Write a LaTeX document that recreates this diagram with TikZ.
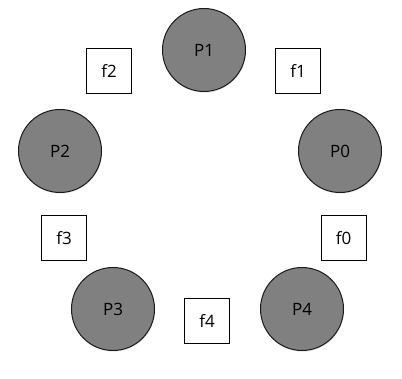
\documentclass[tikz,border=0pt]{standalone}
\usepackage{fontspec}
\setmainfont{Open Sans}
\usepackage{xcolor}
\definecolor{cFill}{HTML}{808080}
\definecolor{cLine}{HTML}{1A1A1A}
\usepackage{tikz}
\usetikzlibrary{positioning,shadows}
\tikzset{
  node-proc/.style={draw=cLine,line width=1pt,circle,fill=cFill,
    minimum size=83pt,inner sep=0pt,font=\fontsize{17}{19}\selectfont,
    drop shadow={opacity=0.2,shadow xshift=0.6pt,shadow yshift=-1.2pt}},
  node-fork/.style={draw=black,line width=0.8pt,rectangle,
    minimum width=45pt,minimum height=45pt,inner sep=0pt,
    font=\fontsize{17}{19}\selectfont},
}

\begin{document}
\begin{tikzpicture}[x=1pt,y=-1pt]
  \useasboundingbox (0,0) rectangle (402,379);
  % philosophers
  \node[node-proc] (p1) at (204,50)  {P1};
  \node[node-proc] (p2) at (60,151)  {P2};
  \node[node-proc] (p0) at (340,151) {P0};
  \node[node-proc] (p3) at (113,309) {P3};
  \node[node-proc] (p4) at (302,309) {P4};
  % forks
  \node[node-fork] (f2) at (109,71)  {f2};
  \node[node-fork] (f1) at (298,71)  {f1};
  \node[node-fork] (f3) at (64,238)  {f3};
  \node[node-fork] (f0) at (343.5,238) {f0};
  \node[node-fork] (f4) at (207,321) {f4};
\end{tikzpicture}
\end{document}
